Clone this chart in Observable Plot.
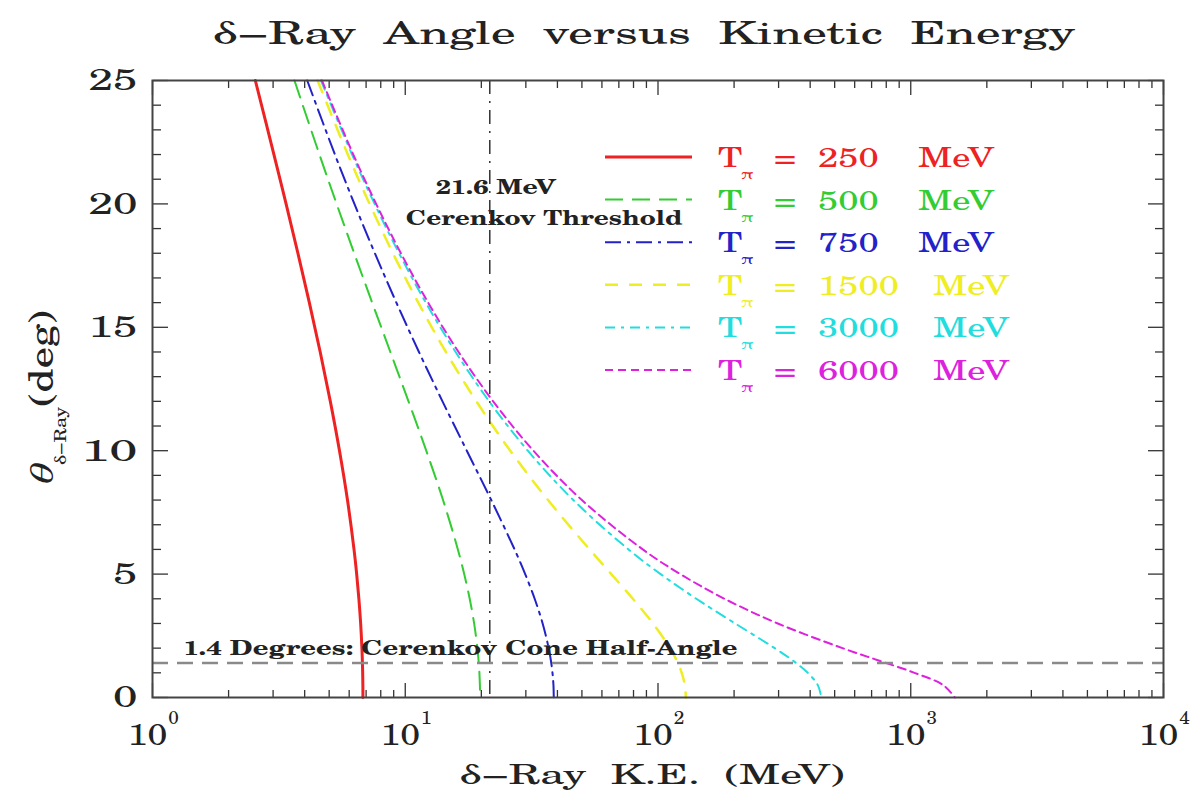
<!DOCTYPE html>
<html><head><meta charset="utf-8">
<script src="https://cdn.jsdelivr.net/npm/d3@7"></script>
<script src="https://cdn.jsdelivr.net/npm/@observablehq/plot@0.6"></script>
<style>body{margin:0;background:#fff} #chart{width:1203px;height:794px}</style>
</head><body><div id="chart"></div>
<script>
// θ (deg) grid at which δ-ray kinetic energies (MeV) were read for each pion energy
const thetaGrid = [25,22,20,18,16,14,12,10,8,6,5,4,3,2,1.5,1,0.5,0];
const ke250  = [2.552,3.023,3.377,3.761,4.174,4.608,5.053,5.493,5.908,6.270,6.424,6.555,6.661,6.738,6.765,6.785,6.797,6.801];
const ke500  = [3.645,4.576,5.351,6.281,7.397,8.731,10.30,12.11,14.11,16.15,17.11,17.99,18.73,19.30,19.50,19.65,19.74,19.77];
const ke750  = [4.094,5.269,6.293,7.583,9.223,11.33,14.04,17.52,21.89,27.07,29.82,32.51,34.96,36.94,37.69,38.24,38.58,38.69];
const ke1500 = [4.500,5.926,7.225,8.939,11.26,14.48,19.12,26.03,36.72,53.62,65.34,79.50,95.56,111.6,118.6,124.1,127.7,128.9];
const ke3000 = [4.640,6.160,7.565,9.452,12.06,15.82,21.48,30.54,46.24,76.39,102.4,141.8,202.0,289.6,341.4,391.3,428.9,443.1];
const ke6000 = [4.682,6.230,7.670,9.612,12.32,16.25,22.27,32.14,49.98,87.07,122.5,183.3,297.8,536.8,746.1,1034,1345,1495];

const pionEnergies = [250,500,750,1500,3000,6000];
const seriesKE = [ke250,ke500,ke750,ke1500,ke3000,ke6000];
const seriesColors = ["#ee2222","#33cc33","#2222c8","#eeee22","#22dddd","#dd22dd"];
const seriesDash = [null,"18,9","16,6,3,6","13,11","10,6,3,6","8,5"];
const seriesWidth = [3,2,2,2.5,2,2];

const thresholdKE = 21.6;     // MeV
const coneAngle = 1.4;        // deg
const xMajor = [1,10,100,1000,10000];
const xExp = ["0","1","2","3","4"];
const xMinor = [];
for (const d of [1,10,100,1000]) for (let m=2;m<=9;m++) xMinor.push(d*m);
const yMajor = [0,5,10,15,20,25];
const yMinor = d3.range(0,26).filter(v => v % 5 !== 0);

const rows = [];
pionEnergies.forEach((e,i) => thetaGrid.forEach((t,j) => rows.push({pion:e, theta:t, ke:seriesKE[i][j]})));

const schola = "TeX Gyre Schola";
const empty = () => "";
const FH = 794 - 80 - 97;   // frame height
const FW = 1203 - 152 - 40; // frame width
const tk = {tickFormat:empty, label:null, stroke:"#333", strokeWidth:1.3};

const marks = [];
pionEnergies.forEach((e,i) => {
  marks.push(Plot.line(rows.filter(r => r.pion === e), {
    x:"ke", y:"theta", stroke:seriesColors[i], strokeWidth:seriesWidth[i],
    strokeDasharray:seriesDash[i], curve:"catmull-rom"
  }));
});
const annFont = {fontFamily:schola, fontWeight:"bold", fontSize:20, fill:"#222", lineAnchor:"middle", textAnchor:"start"};
marks.push(
  Plot.ruleX([thresholdKE], {stroke:"#333", strokeWidth:1.5, strokeDasharray:"14,7,2,7"}),
  Plot.ruleY([coneAngle], {stroke:"#8a8a8a", strokeWidth:2.5, strokeDasharray:"16,9"}),
  Plot.text(["21.6 MeV"], {x:[thresholdKE], frameAnchor:"top", dy:107, dx:-54, ...annFont}),
  Plot.text(["Cerenkov Threshold"], {x:[thresholdKE], frameAnchor:"top", dy:138, dx:-84, ...annFont}),
  Plot.text(["1.4 Degrees: Cerenkov Cone Half-Angle"], {y:[coneAngle], frameAnchor:"left", dx:31, dy:-14, ...annFont}),
  // inward ticks on four sides
  Plot.axisX(xMajor, {anchor:"top", tickSize:15, dy:FH, ...tk}),
  Plot.axisX(xMinor, {anchor:"top", tickSize:8, dy:FH, ...tk}),
  Plot.axisX(xMajor, {anchor:"bottom", tickSize:15, dy:-FH, ...tk}),
  Plot.axisX(xMinor, {anchor:"bottom", tickSize:8, dy:-FH, ...tk}),
  Plot.axisY(yMajor, {anchor:"right", tickSize:15, dx:-FW, ...tk}),
  Plot.axisY(yMinor, {anchor:"right", tickSize:8, dx:-FW, ...tk}),
  Plot.axisY(yMajor, {anchor:"left", tickSize:15, dx:FW, ...tk}),
  Plot.axisY(yMinor, {anchor:"left", tickSize:8, dx:FW, ...tk}),
  // tick labels
  Plot.axisX(xMajor, {anchor:"bottom", tickSize:0, tickPadding:25, dx:-5, tickFormat:d => "10", label:null,
    fontFamily:schola, fontSize:31, fill:"#222"}),
  Plot.axisX(xMajor, {anchor:"bottom", tickSize:0, tickPadding:13, dx:21,
    tickFormat:d => xExp[xMajor.indexOf(d)], label:null, fontFamily:schola, fontSize:19, fill:"#222"}),
  Plot.axisY(yMajor, {anchor:"left", tickSize:0, tickPadding:15, label:null,
    fontFamily:schola, fontSize:31, fill:"#222"}),
  Plot.frame({stroke:"#444", strokeWidth:2}),
  Plot.text(["δ\u2212Ray  Angle  versus  Kinetic  Energy"], {frameAnchor:"top", dy:-47, dx:-14, lineAnchor:"middle",
    fontFamily:schola, fontSize:32, fill:"#222"}),
  Plot.text(["δ\u2212Ray  K.E.  (MeV)"], {frameAnchor:"bottom", dy:78, dx:-6, lineAnchor:"middle",
    fontFamily:schola, fontSize:28, fill:"#222"})
);

const chart = Plot.plot({
  width:1203, height:794,
  marginLeft:152, marginRight:40, marginTop:80, marginBottom:97,
  style:{background:"#fff", overflow:"visible"},
  x:{type:"log", domain:[1,1e4], label:null},
  y:{domain:[0,25], label:null},
  marks
});
document.getElementById("chart").appendChild(chart);
const svg = d3.select(chart);

// stretch a text horizontally about its anchor point (the reference's lettering is wide)
function stretchBy(el, sx) {
  const ax = +el.getAttribute("x") || 0, ay = +el.getAttribute("y") || 0;
  const t = el.getAttribute("transform") || "";
  el.setAttribute("transform", `${t} translate(${ax},${ay}) scale(${sx.toFixed(3)},1) translate(${-ax},${-ay})`);
}
function stretchTo(sel, target) {
  sel.each(function(){ const w = this.getComputedTextLength(); if (w > 0) stretchBy(this, target / w); });
}
const byText = s => svg.selectAll("text").filter(function(){ return this.textContent === s; });
stretchTo(byText("21.6 MeV"), 120);
stretchTo(byText("Cerenkov Threshold"), 277);
stretchTo(byText("1.4 Degrees: Cerenkov Cone Half-Angle"), 554);
stretchTo(byText("δ\u2212Ray  Angle  versus  Kinetic  Energy"), 863);
stretchTo(byText("δ\u2212Ray  K.E.  (MeV)"), 385);
svg.selectAll('g[aria-label="y-axis tick label"] text').each(function(){ stretchBy(this, 1.42); });
byText("10").each(function(){ stretchBy(this, 1.15); });

// y-axis label θ_{δ−Ray}(deg)
const yl = svg.append("text")
  .attr("transform","translate(53,487) rotate(-90) scale(1.25,1)")
  .attr("text-anchor","start").attr("fill","#222").attr("font-family",schola);
yl.append("tspan").attr("font-style","italic").attr("font-size",31).text("θ");
yl.append("tspan").attr("font-size",16).attr("dy",13).attr("dx",1).text("δ\u2212Ray");
yl.append("tspan").attr("font-size",34).attr("dy",-13).text("(deg)");

// legend
const lg = svg.append("g").attr("text-anchor","start").attr("font-family",schola);
pionEnergies.forEach((e,i) => {
  const y = 157 + i*42.6;
  lg.append("line").attr("x1",605).attr("x2",692).attr("y1",y).attr("y2",y)
    .attr("stroke",seriesColors[i]).attr("stroke-width",seriesWidth[i])
    .attr("stroke-dasharray",seriesDash[i]);
  const g = lg.append("g").attr("fill",seriesColors[i]).attr("font-size",28);
  const parts = [
    g.append("text").attr("x",718).attr("y",y+10).text("T"),
    g.append("text").attr("x",741).attr("y",y+22).attr("font-size",14).text("π"),
    g.append("text").attr("x",774).attr("y",y+10).text("="),
    g.append("text").attr("x",818).attr("y",y+10).text(String(e)),
    g.append("text").attr("x",e >= 1000 ? 933 : 918).attr("y",y+10).text("MeV")
  ];
  parts.forEach(p => stretchBy(p.node(), 1.3));
});
</script>
</body></html>
